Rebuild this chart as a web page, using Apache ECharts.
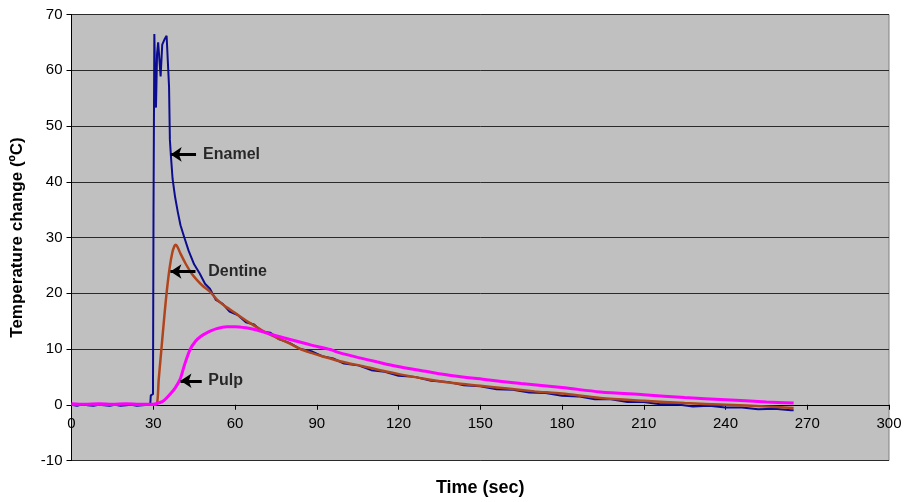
<!DOCTYPE html>
<html>
<head>
<meta charset="utf-8">
<script src="https://cdn.jsdelivr.net/npm/echarts@6/dist/echarts.min.js"></script>
<style>
html,body{margin:0;padding:0;background:#fff;}
#chart{width:910px;height:502px;}
</style>
</head>
<body>
<div id="chart"></div>
<script>
// ---- data (time in sec, temperature change in °C) ----
var xTicks = [0, 30, 60, 90, 120, 150, 180, 210, 240, 270, 300];
var yTicks = [-10, 0, 10, 20, 30, 40, 50, 60, 70];

var enamelTime = [0, 2, 4, 6, 8, 10, 12, 14, 16, 18, 20, 22, 24, 26, 28, 28.9, 29.1, 29.9, 30.1, 30.4, 30.7, 31.0, 31.4, 31.8, 32.2, 32.7, 33.3, 34.1, 34.9, 35.4, 35.8, 36.1, 36.5, 37.1, 38, 39, 40, 41.4, 43, 45, 47, 49, 50.8, 53, 55.5, 58, 61, 64, 67, 70, 73, 76, 80, 84, 88, 92, 96, 100, 105, 110, 115, 120, 126, 132, 138, 144, 150, 156, 162, 168, 174, 180, 186, 192, 198, 204, 210, 216, 222, 228, 234, 240, 246, 252, 258, 264, 265];
var enamelTemp = [0.0, -0.2, 0.1, -0.1, -0.2, 0.0, -0.1, -0.2, 0.0, -0.2, -0.1, 0.0, -0.2, -0.1, 0.0, 0.1, 1.7, 1.9, 35, 66.5, 58, 53.3, 63, 65, 64.8, 58.9, 64.6, 65.5, 66.2, 66.4, 57, 47.6, 44.5, 40.5, 37.3, 34.6, 32.2, 30.0, 27.6, 25.2, 23.6, 21.7, 20.8, 18.8, 18.1, 16.7, 16.1, 14.8, 14.4, 13.1, 12.9, 11.8, 11.1, 10.0, 9.6, 8.7, 8.3, 7.4, 7.1, 6.2, 5.9, 5.2, 5.0, 4.3, 4.1, 3.5, 3.3, 2.8, 2.7, 2.2, 2.1, 1.6, 1.5, 1.0, 1.0, 0.5, 0.5, 0.1, 0.1, -0.3, -0.2, -0.5, -0.5, -0.8, -0.7, -1.0, -1.0];

var dentineTime = [0, 5, 10, 15, 20, 25, 30, 31.3, 32, 33, 34, 35, 36, 37, 37.8, 38.3, 39, 40, 42, 44, 46, 48, 50.8, 53.3, 56, 58.2, 62, 66, 70.4, 75, 80, 84, 88, 92, 98.5, 107, 115, 121, 131.6, 140, 150, 160, 170, 180, 194, 210, 225, 240, 255, 265];
var dentineTemp = [0.0, 0.1, 0.0, 0.0, 0.1, 0.0, 0.0, 0.1, 4.5, 10.0, 15.5, 20.5, 24.5, 27.3, 28.5, 28.7, 28.2, 27.1, 25.2, 23.6, 22.4, 21.4, 20.3, 18.9, 17.8, 17.1, 15.8, 14.5, 13.2, 12.1, 11.0, 10.0, 9.3, 8.7, 7.8, 6.9, 6.0, 5.4, 4.5, 3.9, 3.4, 2.9, 2.4, 2.0, 1.2, 0.7, 0.3, 0.0, -0.3, -0.6];

var pulpTime = [0, 5, 10, 15, 20, 25, 30, 32.5, 34, 36, 38, 39.8, 41.5, 43.5, 45.5, 47.5, 49.6, 53, 57, 60, 64, 68, 72, 80.2, 88, 95, 98.5, 105, 112, 119.3, 130, 140, 152.4, 165, 180, 194, 210, 225, 240, 255, 265];
var pulpTemp = [0.2, 0.1, 0.2, 0.1, 0.2, 0.1, 0.1, 0.4, 0.8, 1.8, 3.0, 4.5, 7.2, 9.9, 11.4, 12.3, 12.9, 13.6, 14.0, 14.0, 13.8, 13.4, 12.8, 11.7, 10.7, 9.9, 9.3, 8.5, 7.7, 6.9, 6.0, 5.2, 4.5, 3.8, 3.1, 2.3, 1.8, 1.3, 0.9, 0.5, 0.3];

// annotation labels: [name, arrow tail time, arrow tip time, label time, temperature]
var labelNames = ['Enamel', 'Dentine', 'Pulp'];
var arrowTail = [45.7, 45.5, 47.8];
var arrowTip = [36.4, 36.3, 40.0];
var labelTime = [48.3, 50.2, 50.2];
var labelTemp = [44.9, 23.9, 4.3];

function pairs(t, v) { return t.map(function (x, i) { return [x, v[i]]; }); }

var FONT = "'Liberation Sans', Arial, sans-serif";
var chart = echarts.init(document.getElementById('chart'), null, {renderer: 'canvas'});

var option = {
  animation: false,
  backgroundColor: '#ffffff',
  grid: {
    left: 71.5, right: 21, top: 14.5, bottom: 41.5,
    containLabel: false, outerBoundsMode: 'none',
    show: true, backgroundColor: '#c0c0c0', borderColor: '#808080', borderWidth: 1
  },
  xAxis: {
    type: 'value', min: xTicks[0], max: xTicks[xTicks.length - 1], interval: 30,
    name: 'Time (sec)', nameLocation: 'middle', nameGap: 19,
    nameTextStyle: {fontFamily: FONT, fontWeight: 'bold', fontSize: 18, color: '#000'},
    axisLine: {onZero: true, lineStyle: {color: '#000', width: 1}},
    axisTick: {show: true, length: 5, lineStyle: {color: '#000'}},
    axisLabel: {fontFamily: FONT, fontSize: 15, color: '#000', margin: -44},
    splitLine: {show: false}
  },
  yAxis: {
    type: 'value', min: yTicks[0], max: yTicks[yTicks.length - 1], interval: 10,
    name: 'Temperature change (ºC)', nameLocation: 'middle', nameGap: 46, nameRotate: 90,
    nameTextStyle: {fontFamily: FONT, fontWeight: 'bold', fontSize: 17, color: '#000'},
    axisLine: {show: true, onZero: false, lineStyle: {color: '#000', width: 1}},
    axisTick: {show: true, length: 5, lineStyle: {color: '#000'}},
    axisLabel: {fontFamily: FONT, fontSize: 15, color: '#000', margin: 9},
    splitLine: {show: true, lineStyle: {color: '#2a2a2a', width: 1}}
  },
  series: [
    {
      name: 'Enamel', type: 'line', data: pairs(enamelTime, enamelTemp),
      showSymbol: false, symbol: 'none', smooth: false,
      lineStyle: {color: '#0c0c8e', width: 2}, z: 2
    },
    {
      name: 'Dentine', type: 'line', data: pairs(dentineTime, dentineTemp),
      showSymbol: false, symbol: 'none', smooth: 0.3,
      lineStyle: {color: '#b0441c', width: 2.5}, z: 3
    },
    {
      name: 'Pulp', type: 'line', data: pairs(pulpTime, pulpTemp),
      showSymbol: false, symbol: 'none', smooth: 0.3,
      lineStyle: {color: '#ff00ff', width: 3}, z: 4
    },
    {
      name: 'labels', type: 'scatter', symbolSize: 0, z: 6, silent: true,
      data: labelNames.map(function (n, i) { return {name: n, value: [labelTime[i], labelTemp[i]]}; }),
      label: {
        show: true, position: 'right', distance: 0, formatter: '{b}',
        fontFamily: FONT, fontWeight: 'bold', fontSize: 16, color: '#000'
      },
      markLine: {
        silent: true, symbol: ['none', 'arrow'], symbolSize: [11, 11],
        label: {show: false},
        lineStyle: {color: '#000', width: 3, type: 'solid'},
        data: labelNames.map(function (n, i) {
          return [{coord: [arrowTail[i], labelTemp[i]]}, {coord: [arrowTip[i], labelTemp[i]]}];
        })
      }
    }
  ]
};
chart.setOption(option);
</script>
</body>
</html>
